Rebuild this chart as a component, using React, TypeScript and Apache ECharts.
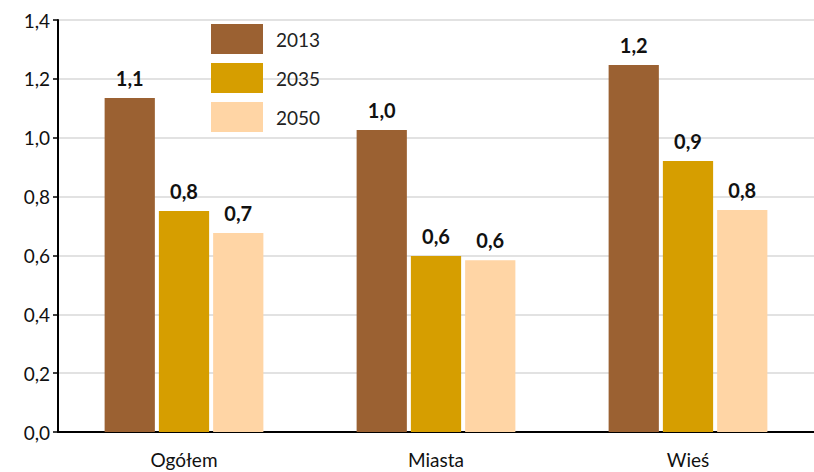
import React, { useEffect, useRef } from "react";
import * as echarts from "echarts";

const categories = ["Ogółem", "Miasta", "Wieś"];
const seriesNames = ["2013", "2035", "2050"];
const values2013 = [1.135, 1.026, 1.247];
const values2035 = [0.751, 0.598, 0.921];
const values2050 = [0.676, 0.584, 0.754];
const colors = ["#9B6132", "#D69E00", "#FFD5A5"];
const fontFamily = "Lato, 'Open Sans', sans-serif";

export default function App() {
  const ref = useRef<HTMLDivElement>(null);
  useEffect(() => {
    if (!ref.current) return;
    const chart = echarts.init(ref.current, null, { renderer: "svg" });
    const data = [values2013, values2035, values2050];
    chart.setOption({
      animation: false,
      textStyle: { fontFamily },
      grid: { left: 58, right: 0, top: 20, bottom: 40 },
      legend: {
        orient: "vertical",
        left: 206,
        top: 19,
        itemWidth: 52,
        itemHeight: 30,
        itemGap: 9,
        icon: "rect",
        textStyle: { fontSize: 19, color: "#222", fontFamily, padding: [0, 0, 0, 8] },
        data: seriesNames,
      },
      xAxis: {
        type: "category",
        data: categories,
        axisLine: { lineStyle: { color: "#000", width: 2 } },
        axisTick: { alignWithLabel: true, length: 6, lineStyle: { color: "#000", width: 1.5 } },
        axisLabel: { fontSize: 19, color: "#111", margin: 18, fontFamily },
      },
      yAxis: {
        type: "value",
        min: 0,
        max: 1.4,
        interval: 0.2,
        axisLine: { show: true, lineStyle: { color: "#000", width: 2 } },
        axisTick: { show: true, length: 5, lineStyle: { color: "#000", width: 1.5 } },
        axisLabel: {
          fontSize: 19,
          color: "#111",
          margin: 8,
          fontFamily,
          formatter: (v: number) => v.toFixed(1).replace(".", ","),
        },
        splitLine: { lineStyle: { color: "#D9D9D9", width: 1.5 } },
      },
      series: seriesNames.map((name, i) => ({
        name,
        type: "bar",
        data: data[i],
        barGap: "8%",
        barCategoryGap: "37%",
        itemStyle: { color: colors[i] },
        label: {
          show: true,
          position: "top",
          distance: 10,
          fontSize: 20,
          fontWeight: "bold",
          color: "#111",
          fontFamily,
          formatter: (p: any) => (Math.round(p.value * 10) / 10).toFixed(1).replace(".", ","),
        },
      })),
    });
    return () => chart.dispose();
  }, []);
  return <div ref={ref} style={{ width: 814, height: 472, position: "absolute", left: 0, top: 0, background: "#fff" }} />;
}
